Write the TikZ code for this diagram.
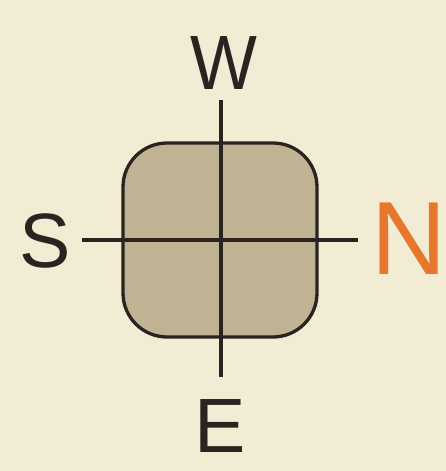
\documentclass[tikz,border=0pt]{standalone}
\usepackage{fontspec}
\setmainfont{Liberation Sans}
\definecolor{bg}{HTML}{F2ECD4}
\definecolor{boxfill}{HTML}{BFB393}
\definecolor{ink}{HTML}{2A2420}
\definecolor{orangeN}{HTML}{E8772E}
\begin{document}
\begin{tikzpicture}[x=1pt,y=-1pt,
  letter/.style={inner sep=0pt, text=ink, font=\fontsize{77}{77}\selectfont},
  axis/.style={draw=ink, line width=3.3pt},
  square/.style={draw=ink, line width=3.3pt, fill=boxfill, rounded corners=44pt,
    minimum width=194pt, minimum height=194pt, inner sep=0pt}]
\fill[bg] (0,0) rectangle (446,471);
\useasboundingbox (0,0) rectangle (446,471);
\node[square] (box) at (220,240) {};
\coordinate (top) at (221,100);
\coordinate (bottom) at (221,377);
\coordinate (left) at (82,240);
\coordinate (right) at (358,240);
\draw[axis] (top) -- (bottom);
\draw[axis] (left) -- (right);
\node[letter, xscale=0.92] (W) at (224,63) {W};
\node[letter] (S) at (45,241) {S};
\node[letter] (E) at (220,426) {E};
\node[letter, text=orangeN, font=\fontsize{104}{104}\selectfont] (N) at (409,239) {N};
\end{tikzpicture}
\end{document}
